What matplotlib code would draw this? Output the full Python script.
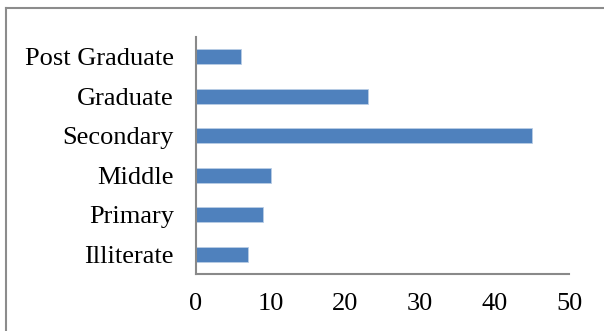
import matplotlib.pyplot as plt
from matplotlib.lines import Line2D

# data
categories = ['Illiterate', 'Primary', 'Middle', 'Secondary', 'Graduate', 'Post Graduate']
values = [7, 9, 10, 45, 23, 6]
xticks = [0, 10, 20, 30, 40, 50]

plt.rcParams['font.family'] = ['Liberation Serif', 'DejaVu Serif']

fig = plt.figure(figsize=(6.04, 3.31), dpi=100)
ax = fig.add_axes([196 / 604, 1 - 274 / 331, 373 / 604, 237 / 331])

ax.barh(range(len(categories)), values, height=0.39, color='#4F81BD',
        edgecolor='#B9CDE5', linewidth=0.6)

ax.set_xlim(0, 50)
ax.set_ylim(-0.5, len(categories) - 0.5)
ax.set_xticks(xticks)
ax.set_yticks(range(len(categories)))
ax.set_yticklabels(categories)
ax.tick_params(axis='both', length=0, labelsize=19, colors='black')
ax.tick_params(axis='x', pad=14)
ax.tick_params(axis='y', pad=16)

for s in ['top', 'right']:
    ax.spines[s].set_visible(False)
for s in ['left', 'bottom']:
    ax.spines[s].set_color('#898989')
    ax.spines[s].set_linewidth(1.5)

# outer chart border: only top and left edges are inside the image
bx, by = 5.5 / 604, 1 - 7.5 / 331
fig.add_artist(Line2D([bx, 1.0], [by, by], transform=fig.transFigure,
                      color='#8c8c8c', linewidth=1.5))
fig.add_artist(Line2D([bx, bx], [0.0, by], transform=fig.transFigure,
                      color='#8c8c8c', linewidth=1.5))

fig.savefig('out.png', dpi=100)
